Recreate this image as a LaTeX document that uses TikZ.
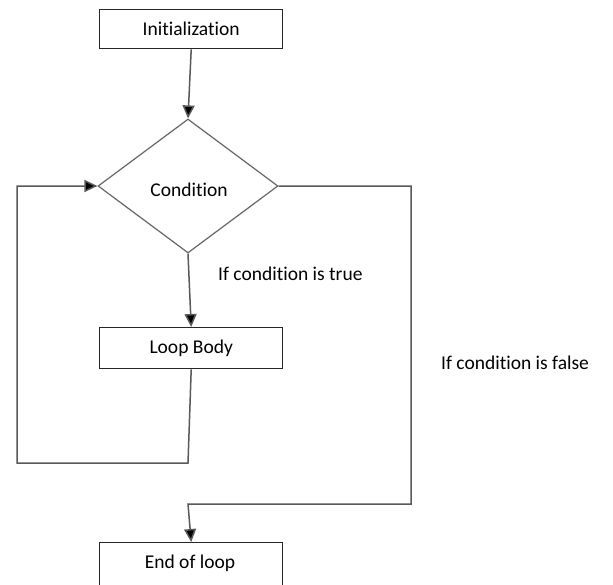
\documentclass[tikz,border=0pt]{standalone}
\usepackage{fontspec}
\setmainfont{Carlito}[Ligatures={NoCommon}]
\usetikzlibrary{shapes.geometric,arrows.meta}
\begin{document}
\begin{tikzpicture}[x=1pt,y=-1pt,
  every node/.style={font=\fontsize{19.5}{22}\selectfont},
  procbox/.style={draw=black!85,line width=1.4pt,minimum width=183pt,minimum height=39pt,inner sep=0pt,anchor=north west},
  decision/.style={draw=black!60,line width=1.2pt,diamond,minimum width=180pt,minimum height=134pt,inner sep=0pt},
  conn/.style={draw=black!65,line width=1.5pt},
  arr/.style={conn,-{Triangle[length=13pt,width=12pt,fill=black]}},
  lbl/.style={anchor=west,inner sep=0pt}]
\useasboundingbox (0,0) rectangle (613,584);
\clip (0,0) rectangle (613,584);
\fill[white] (0,0) rectangle (613,584);
\node[procbox] (init) at (99,9) {Initialization};
\node[decision] (cond) at (188,186) {};
\node (condtxt) at (189,190) {Condition};
\node[procbox,minimum height=41pt] (body) at (99,327) {Loop Body};
\node[procbox,minimum height=60pt] (end) at (99,542) {};
\node (endtxt) at (190,563) {End of loop};
\coordinate (b1) at (188,463);
\coordinate (b2) at (17,463);
\coordinate (b3) at (17,186);
\coordinate (r1) at (411,186);
\coordinate (r2) at (411,504);
\coordinate (r3) at (188,504);
\draw[arr] (init.south) -- (cond.north);
\draw[arr] (cond.south) -- (body.north);
\draw[arr] (body.south) -- (b1) -- (b2) -- (b3) -- (cond.west);
\draw[arr] (cond.east) -- (r1) -- (r2) -- (r3) -- (end.north);
\node[lbl] (ltrue) at (218,274) {If condition is true};
\node[lbl] (lfalse) at (441,363) {If condition is false};
\end{tikzpicture}
\end{document}
